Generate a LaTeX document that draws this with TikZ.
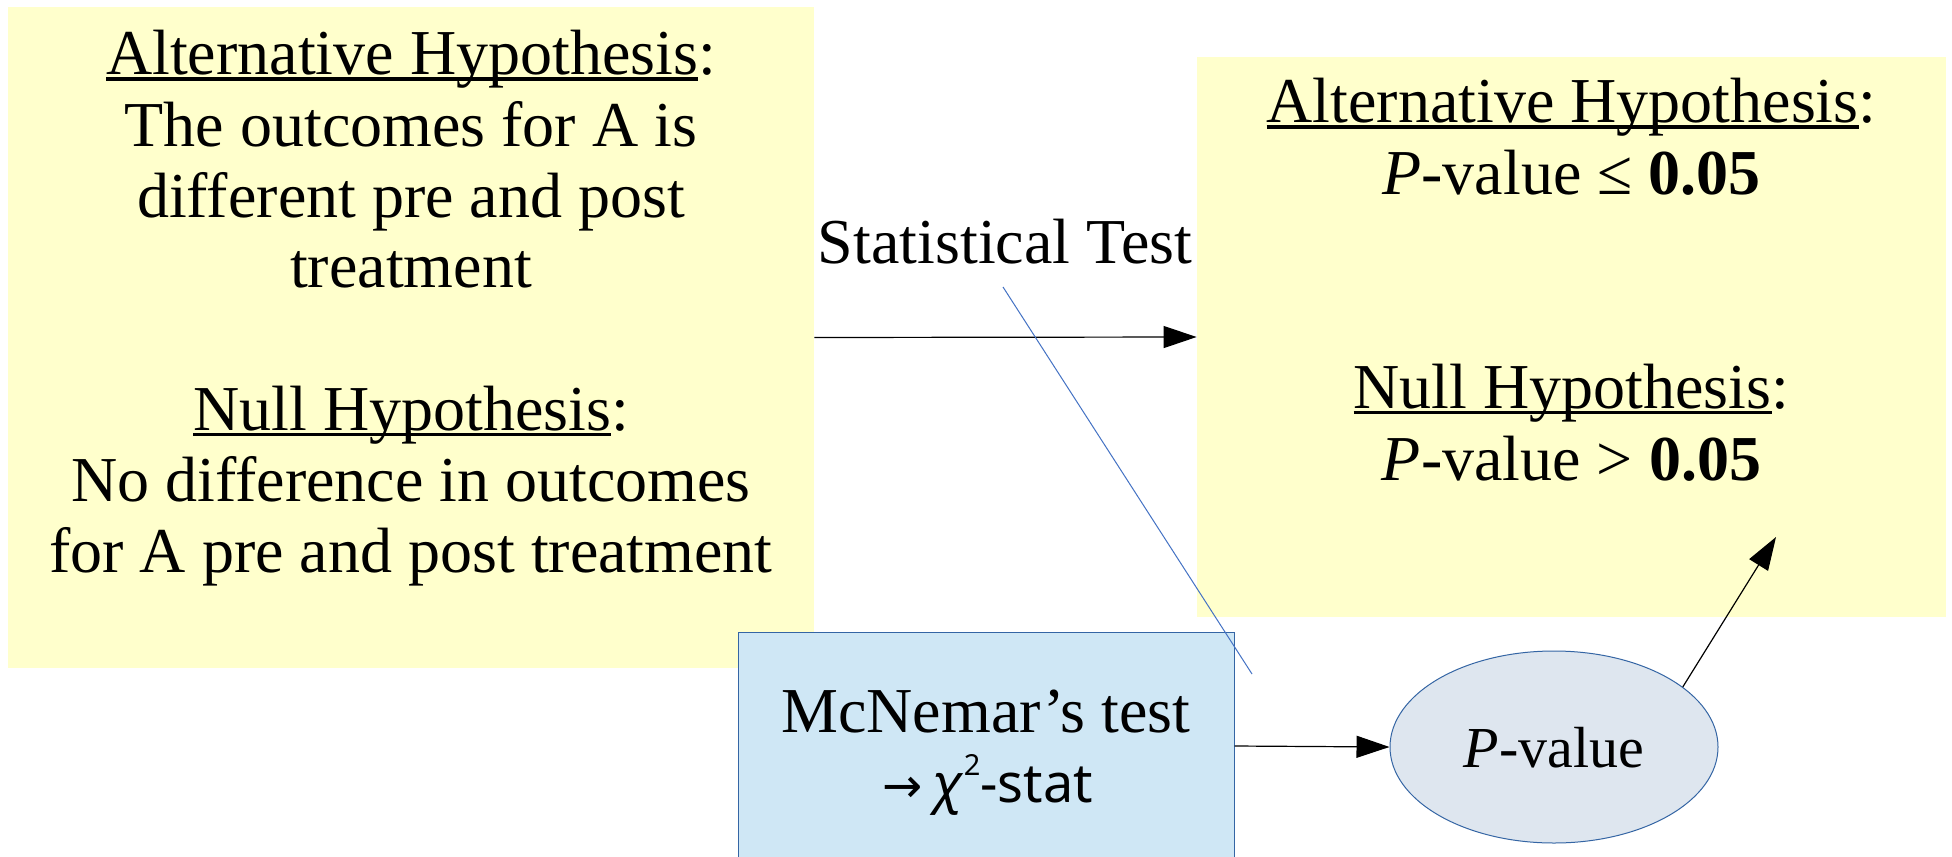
\documentclass[tikz,border=0pt]{standalone}
\usepackage{fontspec}
\setmainfont{Liberation Serif}
\newfontfamily\notosans{Noto Sans}
\newfontfamily\dejavu{DejaVu Sans}
\usetikzlibrary{arrows.meta,shapes.geometric}
\definecolor{hypyellow}{HTML}{FFFFCC}
\definecolor{testblue}{HTML}{CFE7F5}
\definecolor{pvfill}{HTML}{DEE6EF}
\definecolor{edgeblue}{HTML}{3465A4}
\definecolor{lineblue}{HTML}{4472C4}
\newcommand\myul[1]{\leavevmode\setbox0\hbox{#1}\rlap{\rule[-2.85pt]{\wd0}{1.6pt}}\box0}
\begin{document}
\begin{tikzpicture}[x=0.5pt,y=-0.5pt,
  txt/.style={anchor=base, inner sep=0pt, font=\fontsize{32pt}{35.75pt}\selectfont},
  hypbox/.style={rectangle, fill=hypyellow, draw=none, inner sep=0pt},
  testbox/.style={rectangle, fill=testblue, draw=edgeblue, line width=0.5pt, inner sep=0pt},
  pvnode/.style={ellipse, fill=pvfill, draw=edgeblue, line width=0.5pt, inner sep=0pt},
  arr/.style={-{Triangle[length=16.5pt,width=11pt]}, line width=0.6pt, black},
  thinline/.style={lineblue, line width=0.5pt}]
\useasboundingbox (0,0) rectangle (1952,856);
\clip (0,0) rectangle (1952,856);
\fill[white] (0,0) rectangle (1952,856);

% boxes
\node[hypbox, minimum width=403pt, minimum height=330.5pt] (hypL) at (411,337.5) {};
\node[hypbox, minimum width=374.5pt, minimum height=280pt] (hypR) at (1571.5,337) {};
\node[testbox, minimum width=248pt, minimum height=114pt] (test) at (986,746) {};
\node[pvnode, minimum width=164pt, minimum height=96pt] (pv) at (1554,747) {};

% left box text
\node[txt] (l1) at (411,75) {\myul{Alternative Hypothesis}:};
\node[txt] (l2) at (411,146) {The outcomes for A is};
\node[txt] (l3) at (411,217) {different pre and post};
\node[txt] (l4) at (411,287) {treatment};
\node[txt] (l5) at (411,430) {\myul{Null Hypothesis}:};
\node[txt] (l6) at (411,501) {No difference in outcomes};
\node[txt] (l7) at (411,572) {for A pre and post treatment};

% right box text
\node[txt] (r1) at (1571.5,123) {\myul{Alternative Hypothesis}:};
\node[txt] (r2) at (1571.5,194) {\textit{P}-value ≤ \textbf{0.05}};
\node[txt] (r3) at (1571.5,408) {\myul{Null Hypothesis}:};
\node[txt] (r4) at (1571.5,480) {\textit{P}-value > \textbf{0.05}};

% label
\node[txt] (stat) at (1005,263) {Statistical Test};

% test box text
\node[txt] (t1) at (986,732) {McNemar’s test};
\node[txt, anchor=base west, font=\notosans\fontsize{27pt}{30pt}\selectfont] (t2) at (882,802)
  {{\dejavu\fontsize{24pt}{26pt}\selectfont →}\kern5pt\textit{χ}\raisebox{13.5pt}{\fontsize{14.5pt}{16pt}\selectfont 2}-stat};

% p-value text
\node[txt, font=\fontsize{29pt}{33pt}\selectfont] (pvt) at (1554,767) {\textit{P}-value};

% connectors
\draw[arr] (hypL.east) -- (hypR.west);
\draw[arr] (test.east) -- (pv.west);
\coordinate (pvTip) at (1776,537);
\draw[arr] (pv.25) -- (pvTip);
\coordinate (lnA) at (1003,287);
\coordinate (lnB) at (1252,674);
\draw[thinline] (lnA) -- (lnB);
\end{tikzpicture}
\end{document}
